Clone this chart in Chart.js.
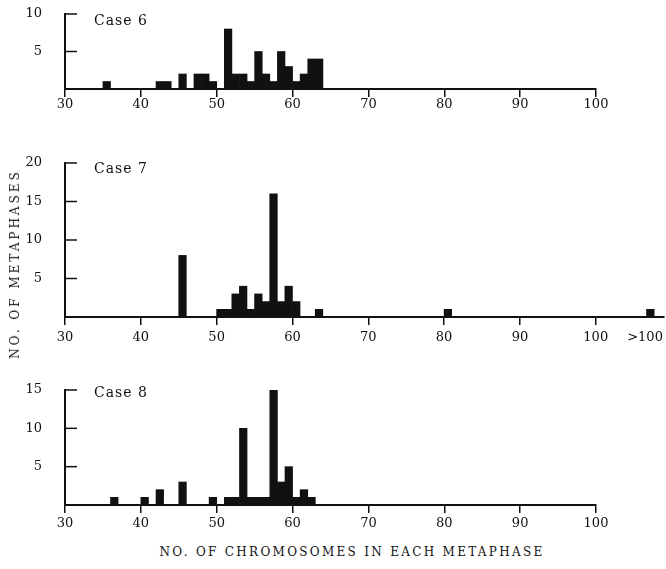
<!DOCTYPE html>
<html>
<head>
<meta charset="utf-8">
<script src="https://cdn.jsdelivr.net/npm/chart.js@4/dist/chart.umd.min.js"></script>
<style>
  html, body { margin: 0; padding: 0; background: #fff; }
  #page { position: relative; width: 666px; height: 569px; overflow: hidden; font-family: "DejaVu Serif", serif; color: #111; }
  .panel { position: absolute; left: 0; width: 666px; }
  .axis-title { position: absolute; font-size: 12px; letter-spacing: 2.3px; white-space: nowrap; }
  #yTitle { left: 15px; top: 264px; transform: translate(-50%, -50%) rotate(-90deg); letter-spacing: 3px; }
  #xTitle { left: 352px; top: 552px; transform: translate(-50%, -50%); }
</style>
</head>
<body>
<div id="page">
  <div class="panel" id="wrap6"><canvas id="case6"></canvas></div>
  <div class="panel" id="wrap7"><canvas id="case7"></canvas></div>
  <div class="panel" id="wrap8"><canvas id="case8"></canvas></div>
  <div class="axis-title" id="yTitle">NO. OF METAPHASES</div>
  <div class="axis-title" id="xTitle">NO. OF CHROMOSOMES IN EACH METAPHASE</div>
</div>
<script>
// Données : nombre de chromosomes (classe n à n+1) et nombre de métaphases
const case6Chromosomes = [35, 42, 43, 45, 47, 48, 49, 51, 52, 53, 54, 55, 56, 57, 58, 59, 60, 61, 62, 63];
const case6Counts = [1, 1, 1, 2, 2, 2, 1, 8, 2, 2, 1, 5, 2, 1, 5, 3, 1, 2, 4, 4];

const case7Chromosomes = [45, 50, 51, 52, 53, 54, 55, 56, 57, 58, 59, 60, 63, 80, ">100"];
const case7Counts = [8, 1, 1, 3, 4, 1, 3, 2, 16, 2, 4, 2, 1, 1, 1];

const case8Chromosomes = [36, 40, 42, 45, 49, 51, 52, 53, 54, 55, 56, 57, 58, 59, 60, 61, 62];
const case8Counts = [1, 1, 2, 3, 1, 1, 1, 10, 1, 1, 1, 15, 3, 5, 1, 2, 1];

const xTickValues = [30, 40, 50, 60, 70, 80, 90, 100];

// la colonne ">100" est placée un peu après 100 sur l'axe
const OVER_100 = ">100";
const overBinStart = 106.7;

function binCentre(c) {
  return (c === OVER_100 ? overBinStart : c) + 0.5;
}
// étiquette ">100" un peu à gauche de sa colonne, sans trait de graduation
const overTick = overBinStart - 0.2;

const INK = "#111";
const tickFont = { family: "DejaVu Serif", size: 13 };

const panels = [
  { id: "case6", wrap: "wrap6", label: "Case 6", chromosomes: case6Chromosomes, counts: case6Counts,
    yMax: 10, xMax: 100, top: 0, padTop: 14, plotHeight: 75, padRight: 70, labelPad: 0, caseOffset: 7 },
  { id: "case7", wrap: "wrap7", label: "Case 7", chromosomes: case7Chromosomes, counts: case7Counts,
    yMax: 20, xMax: 109, top: 150, padTop: 13, plotHeight: 154, padRight: 2, labelPad: 5, caseOffset: 6 },
  { id: "case8", wrap: "wrap8", label: "Case 8", chromosomes: case8Chromosomes, counts: case8Counts,
    yMax: 15, xMax: 100, top: 375, padTop: 15, plotHeight: 115, padRight: 70, labelPad: 3, caseOffset: 3 },
];

// petits traits de graduation tournés vers l'intérieur + nom du cas
const panelDecor = {
  id: "panelDecor",
  afterDraw(chart, args, opts) {
    const { ctx, chartArea, scales } = chart;
    ctx.save();
    ctx.strokeStyle = INK;
    ctx.lineWidth = 1.5;
    scales.y.ticks.forEach((t) => {
      if (t.value <= 0) return;
      const y = scales.y.getPixelForValue(t.value);
      ctx.beginPath();
      ctx.moveTo(chartArea.left, y);
      ctx.lineTo(chartArea.left + 12, y);
      ctx.stroke();
    });
    ctx.fillStyle = INK;
    ctx.font = "14px 'DejaVu Serif'";
    ctx.letterSpacing = "1px";
    ctx.textBaseline = "middle";
    ctx.fillText(opts.text, chartArea.left + 29, chartArea.top + opts.offset);
    ctx.restore();
  },
};

panels.forEach((p) => {
  const wrap = document.getElementById(p.wrap);
  const canvas = document.getElementById(p.id);
  const h = p.padTop + p.plotHeight + 34;
  wrap.style.top = p.top + "px";
  canvas.width = 666;
  canvas.height = h;
  canvas.style.width = "666px";
  canvas.style.height = h + "px";

  const ticks = p.xMax > 100 ? xTickValues.concat([overTick]) : xTickValues;

  new Chart(canvas, {
    type: "bar",
    data: {
      datasets: [
        {
          data: p.chromosomes.map((c, i) => ({ x: binCentre(c), y: p.counts[i] })),
          backgroundColor: INK,
          borderWidth: 0,
          barPercentage: 1,
          categoryPercentage: 1,
        },
      ],
    },
    options: {
      responsive: false,
      animation: false,
      devicePixelRatio: 1,
      layout: { padding: { top: p.padTop, right: p.padRight, left: 0, bottom: 0 } },
      plugins: {
        legend: { display: false },
        tooltip: { enabled: false },
        panelDecor: { text: p.label, offset: p.caseOffset },
      },
      scales: {
        x: {
          type: "linear",
          min: 30,
          max: p.xMax,
          offset: false,
          afterBuildTicks(scale) {
            scale.ticks = ticks.map((v) => ({ value: v }));
          },
          afterFit(scale) {
            scale.height = 34;
            scale.paddingLeft = 0;
            scale.paddingRight = 0;
          },
          ticks: {
            autoSkip: false,
            maxRotation: 0,
            padding: p.labelPad,
            color: INK,
            font: tickFont,
            callback: (v) => (v === overTick ? OVER_100 : v),
          },
          grid: {
            offset: false,
            drawOnChartArea: false,
            drawTicks: true,
            tickLength: 8,
            lineWidth: 1.5,
            color: (c) => (c.tick && c.tick.value === overTick ? "rgba(0,0,0,0)" : INK),
          },
          border: { display: true, color: INK, width: 2 },
        },
        y: {
          min: 0,
          max: p.yMax,
          afterFit(scale) {
            scale.width = 65;
            scale.paddingTop = 0;
            scale.paddingBottom = 0;
          },
          ticks: {
            stepSize: 5,
            padding: 15,
            color: INK,
            font: tickFont,
            callback: (v) => (v === 0 ? "" : v),
          },
          grid: { display: false },
          border: { display: true, color: INK, width: 2 },
        },
      },
    },
    plugins: [panelDecor],
  });
});
</script>
</body>
</html>
